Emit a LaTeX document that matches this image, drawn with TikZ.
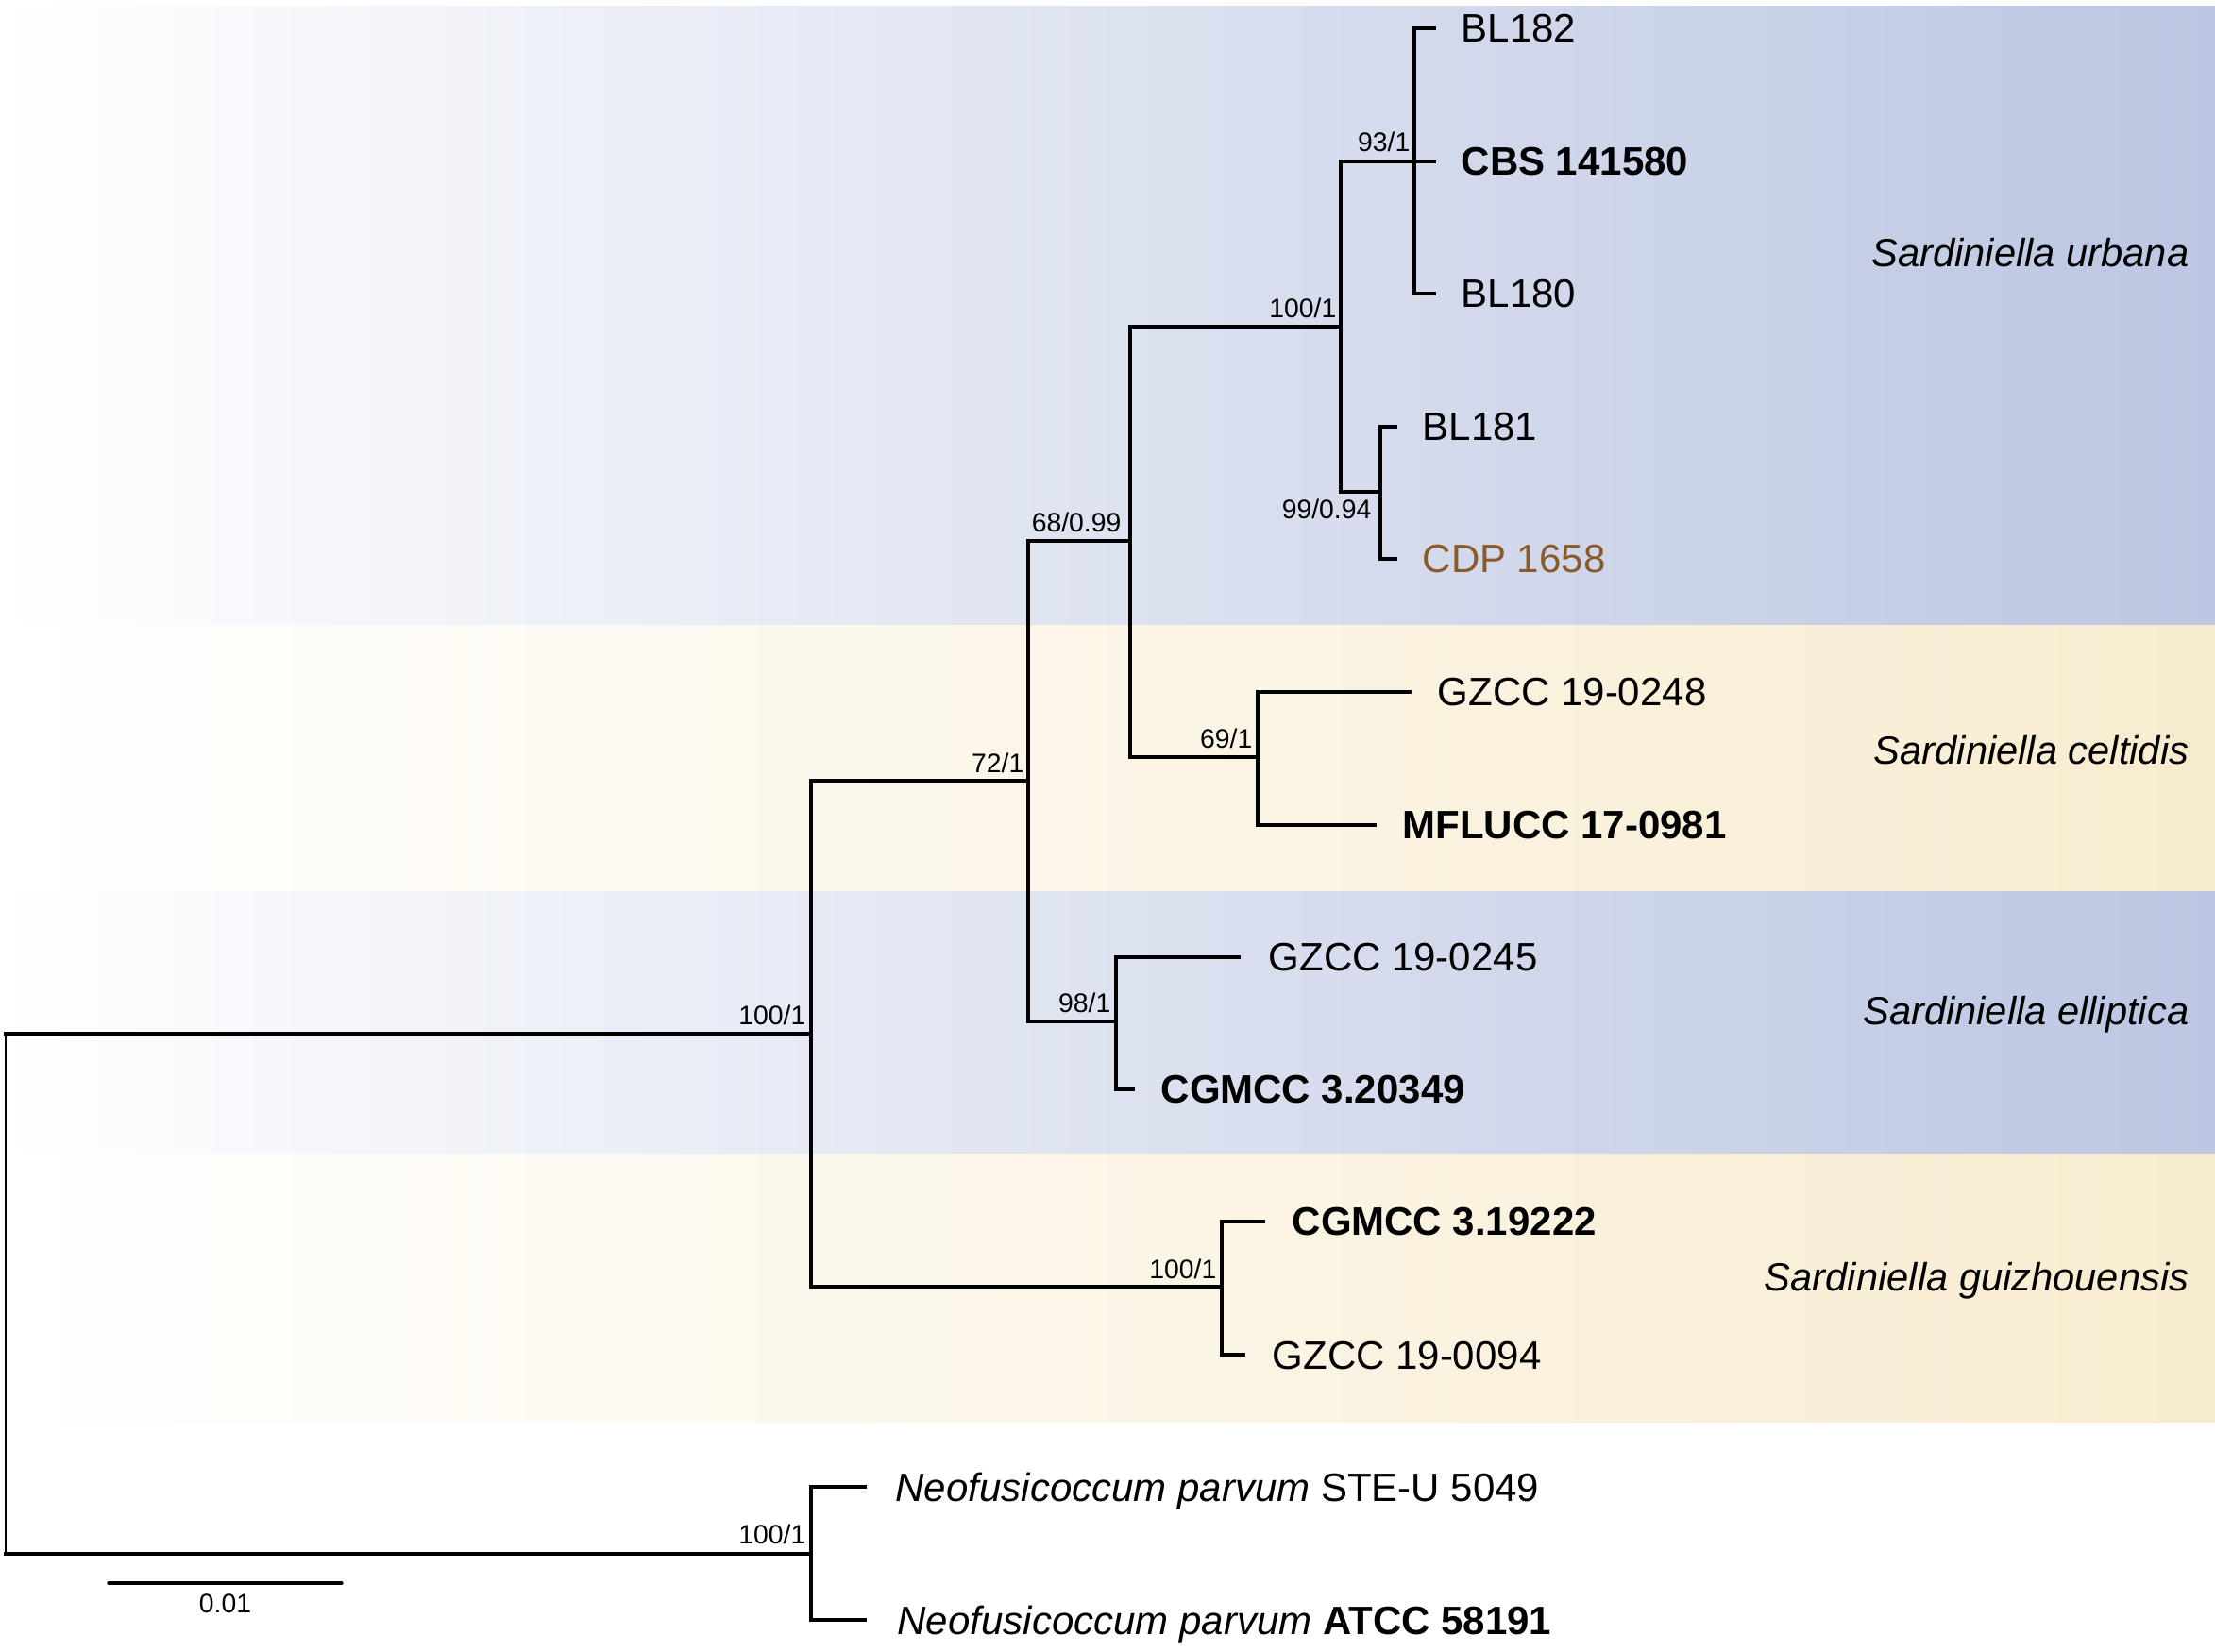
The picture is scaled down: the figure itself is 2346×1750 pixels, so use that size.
\documentclass[tikz,border=0pt]{standalone}
\usepackage{fontspec}
\setmainfont{Liberation Sans}
\usetikzlibrary{calc}
\definecolor{bandblue}{RGB}{188,198,226}
\definecolor{bandyellow}{RGB}{248,236,207}
\definecolor{cdpbrown}{RGB}{140,90,40}
\tikzset{
  br/.style={line width=1pt, line cap=rect, line join=miter},
  rootline/.style={line width=0.45pt},
  tiplab/.style={anchor=base west, inner sep=0pt, font=\fontsize{12.6}{15}\selectfont},
  bs/.style={anchor=base east, inner sep=0pt, font=\fontsize{8.5}{10}\selectfont},
  cladelab/.style={anchor=base east, inner sep=0pt, font=\fontsize{12.5}{15}\selectfont\itshape},
}
\begin{document}
\begin{tikzpicture}[x=0.3pt, y=-0.3pt]
\useasboundingbox (0,0) rectangle (2346,1750);
% clade bands
\shade[left color=white, right color=bandblue] (0,7) rectangle (2346,663);
\shade[left color=white, right color=bandyellow] (0,663) rectangle (2346,945);
\shade[left color=white, right color=bandblue] (0,945) rectangle (2346,1223);
\shade[left color=white, right color=bandyellow] (0,1223) rectangle (2346,1506);

% internal nodes
\coordinate (root) at (6,1370);
\coordinate (nin) at (859,1095);
\coordinate (n72) at (1089,827);
\coordinate (n68) at (1197,573);
\coordinate (nurb) at (1420,346);
\coordinate (n93) at (1498,171);
\coordinate (n99) at (1462,521);
\coordinate (n69) at (1332,802);
\coordinate (n98) at (1182,1082);
\coordinate (ngui) at (1294,1363);
\coordinate (nneo) at (859,1646);
% tip ends
\coordinate (t1) at (1519,30);
\coordinate (t2) at (1519,171);
\coordinate (t3) at (1519,311);
\coordinate (t4) at (1478,452);
\coordinate (t5) at (1478,592);
\coordinate (t6) at (1493,733);
\coordinate (t7) at (1456,874);
\coordinate (t8) at (1312,1014);
\coordinate (t9) at (1200,1154);
\coordinate (t10) at (1338,1294);
\coordinate (t11) at (1317,1435);
\coordinate (t12) at (916,1575);
\coordinate (t13) at (916,1716);

% branches
\draw[rootline] (root |- nin) -- (root |- nneo);
\draw[br] (root |- nin) -- (nin);
\draw[br] (root |- nneo) -- (nneo);
\draw[br] (nin) |- (n72);
\draw[br] (nin) |- (ngui);
\draw[br] (n72) |- (n68);
\draw[br] (n72) |- (n98);
\draw[br] (n68) |- (nurb);
\draw[br] (n68) |- (n69);
\draw[br] (nurb) |- (n93);
\draw[br] (nurb) |- (n99);
\draw[br] (n93) |- (t1);
\draw[br] (n93) -- (t2);
\draw[br] (n93) |- (t3);
\draw[br] (n99) |- (t4);
\draw[br] (n99) |- (t5);
\draw[br] (n69) |- (t6);
\draw[br] (n69) |- (t7);
\draw[br] (n98) |- (t8);
\draw[br] (n98) |- (t9);
\draw[br] (ngui) |- (t10);
\draw[br] (ngui) |- (t11);
\draw[br] (nneo) |- (t12);
\draw[br] (nneo) |- (t13);

% tip labels
\node[tiplab] (l1) at ($(t1)+(28,15)$) {BL182};
\node[tiplab] (l2) at ($(t2)+(28,15)$) {\bfseries CBS 141580};
\node[tiplab] (l3) at ($(t3)+(28,15)$) {BL180};
\node[tiplab] (l4) at ($(t4)+(28,15)$) {BL181};
\node[tiplab, text=cdpbrown] (l5) at ($(t5)+(28,15)$) {CDP 1658};
\node[tiplab] (l6) at ($(t6)+(29,15)$) {GZCC 19-0248};
\node[tiplab] (l7) at ($(t7)+(29,15)$) {\bfseries MFLUCC 17-0981};
\node[tiplab] (l8) at ($(t8)+(31,15)$) {GZCC 19-0245};
\node[tiplab] (l9) at ($(t9)+(29,15)$) {\bfseries CGMCC 3.20349};
\node[tiplab] (l10) at ($(t10)+(30,15)$) {\bfseries CGMCC 3.19222};
\node[tiplab] (l11) at ($(t11)+(30,15)$) {GZCC 19-0094};
\node[tiplab] (l12) at ($(t12)+(32,15)$) {\itshape Neofusicoccum parvum\/\upshape\ STE-U 5049};
\node[tiplab] (l13) at ($(t13)+(34,15)$) {\itshape Neofusicoccum parvum\/\upshape\ \bfseries ATCC 58191};

% support values
\node[bs] (s93) at ($(n93)+(-4,-10)$) {93/1};
\node[bs] (surb) at ($(nurb)+(-4,-9)$) {100/1};
\node[bs] (s99) at ($(n99)+(-9,29)$) {99/0.94};
\node[bs] (s68) at ($(n68)+(-9,-9)$) {68/0.99};
\node[bs] (s72) at ($(n72)+(-4,-8)$) {72/1};
\node[bs] (s69) at ($(n69)+(-5,-9)$) {69/1};
\node[bs] (s98) at ($(n98)+(-5,-9)$) {98/1};
\node[bs] (sin) at ($(nin)+(-5,-9)$) {100/1};
\node[bs] (sgui) at ($(ngui)+(-5,-9)$) {100/1};
\node[bs] (sneo) at ($(nneo)+(-5,-11)$) {100/1};

% clade names
\node[cladelab] (c1) at (2319,283) {Sardiniella urbana};
\node[cladelab] (c2) at (2319,810) {Sardiniella celtidis};
\node[cladelab] (c3) at (2319,1086) {Sardiniella elliptica};
\node[cladelab] (c4) at (2319,1368) {Sardiniella guizhouensis};

% scale bar
\coordinate (sb1) at (115,1677);
\coordinate (sb2) at (362,1677);
\draw[line width=1pt, line cap=round] (sb1) -- (sb2);
\node[anchor=base, inner sep=0pt, font=\fontsize{8.5}{10}\selectfont] (sbl) at ($(sb1)!0.5!(sb2)+(0,31)$) {0.01};
\end{tikzpicture}
\end{document}
